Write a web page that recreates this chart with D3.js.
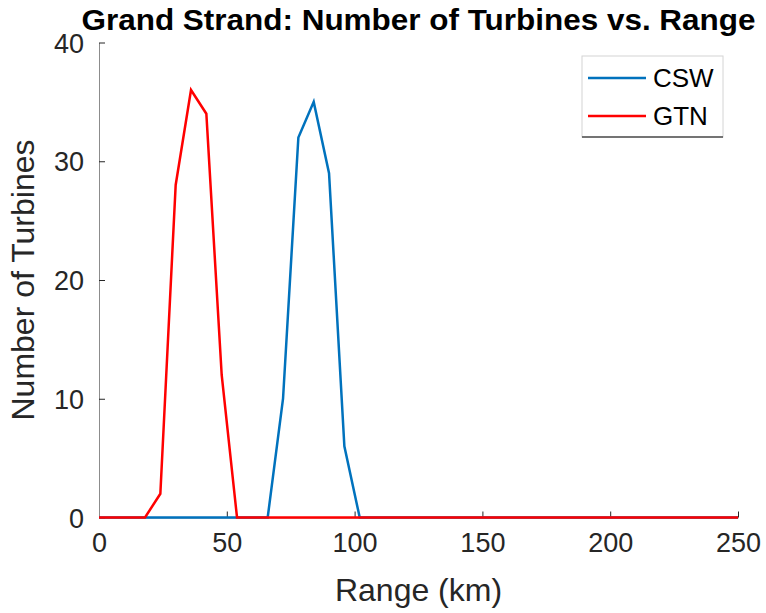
<!DOCTYPE html>
<html>
<head>
<meta charset="utf-8">
<script src="https://cdn.jsdelivr.net/npm/d3@7"></script>
<style>
  body { margin: 0; background: #fff; }
  text { font-family: "Liberation Sans", Arial, Helvetica, sans-serif; }
</style>
</head>
<body>
<div id="chart"></div>
<script>
// values
const rangeKm = [0, 18, 24, 30, 36, 42, 48, 54, 66, 72, 78, 84, 90, 96, 102, 250];
const csw     = [0, 0, 0, 0, 0, 0, 0, 0, 0, 10, 32, 35, 29, 6, 0, 0];
const gtn     = [0, 0, 2, 28, 36, 34, 12, 0, 0, 0, 0, 0, 0, 0, 0, 0];
const seriesNames = ['CSW', 'GTN'];
const seriesColors = ['#0072BD', '#FF0000'];
const xTicks = [0, 50, 100, 150, 200, 250];
const yTicks = [0, 10, 20, 30, 40];

const width = 766, height = 613;
const margin = {top: 42.5, right: 28, bottom: 95.5, left: 99};
const axisColor = '#262626';

const svg = d3.select('#chart')
.append('svg')
.attr('width', width)
.attr('height', height);

let x = d3.scaleLinear()
.domain([0, 250])
.range([margin.left, width - margin.right]);

let y = d3.scaleLinear()
.domain([0, 40])
.range([height - margin.bottom, margin.top]);

// axes (MATLAB style, ticks inward, no box)
const xAxis = svg.append('g')
.attr('transform', 'translate(0,' + y(0) + ')')
.call(d3.axisBottom(x).tickValues(xTicks).tickSize(-6).tickPadding(15).tickSizeOuter(0));

const yAxis = svg.append('g')
.attr('transform', 'translate(' + x(0) + ',0)')
.call(d3.axisLeft(y).tickValues(yTicks).tickSize(-6).tickPadding(15).tickSizeOuter(0));

[xAxis, yAxis].forEach(a => {
	a.select('.domain').attr('stroke', '#8c8c8c').attr('stroke-width', 1);
	a.selectAll('.tick line').attr('stroke', axisColor).attr('stroke-width', 1);
	a.selectAll('.tick text')
	.attr('fill', axisColor)
	.style('font-size', '27px')
	.style('font-family', '"Liberation Sans", Arial, sans-serif');
});
xAxis.selectAll('.tick text').attr('dy', '0.71em');
yAxis.selectAll('.tick text').attr('dy', '0.36em');

// lines
const line = d3.line()
.x((d, i) => x(rangeKm[i]))
.y(d => y(d));

[csw, gtn].forEach((s, i) => {
	svg.append('path')
	.datum(s)
	.attr('d', line)
	.attr('fill', 'none')
	.attr('stroke', seriesColors[i])
	.attr('stroke-width', 2.5)
	.attr('stroke-linejoin', 'miter');
});

// title and labels
svg.append('text')
.attr('x', (x(0) + x(250)) / 2)
.attr('y', 30)
.attr('text-anchor', 'middle')
.attr('font-weight', 'bold')
.attr('font-size', 29)
.attr('fill', '#000')
.attr('textLength', 674)
.attr('lengthAdjust', 'spacingAndGlyphs')
.text('Grand Strand: Number of Turbines vs. Range');

svg.append('text')
.attr('x', (x(0) + x(250)) / 2)
.attr('y', 601)
.attr('text-anchor', 'middle')
.attr('font-size', 32)
.attr('fill', axisColor)
.text('Range (km)');

svg.append('text')
.attr('transform', 'translate(34,' + (y(0) + y(40)) / 2 + ') rotate(-90)')
.attr('text-anchor', 'middle')
.attr('font-size', 32)
.attr('fill', axisColor)
.text('Number of Turbines');

// legend
const legend = svg.append('g').attr('transform', 'translate(582,56)');

legend.append('rect')
.attr('width', 141)
.attr('height', 81)
.attr('fill', '#fff')
.attr('stroke', '#d4d4d4')
.attr('stroke-width', 1);

legend.append('line')
.attr('x1', 0).attr('x2', 141)
.attr('y1', 81).attr('y2', 81)
.attr('stroke', '#4d4d4d')
.attr('stroke-width', 1.5);

seriesNames.forEach((name, i) => {
	let ly = 22 + i * 38;
	legend.append('line')
	.attr('x1', 6).attr('x2', 64)
	.attr('y1', ly).attr('y2', ly)
	.attr('stroke', seriesColors[i])
	.attr('stroke-width', 2.5);

	legend.append('text')
	.attr('x', 71)
	.attr('y', ly)
	.attr('dy', '0.36em')
	.attr('font-size', 26)
	.attr('fill', '#000')
	.text(name);
});
</script>
</body>
</html>
